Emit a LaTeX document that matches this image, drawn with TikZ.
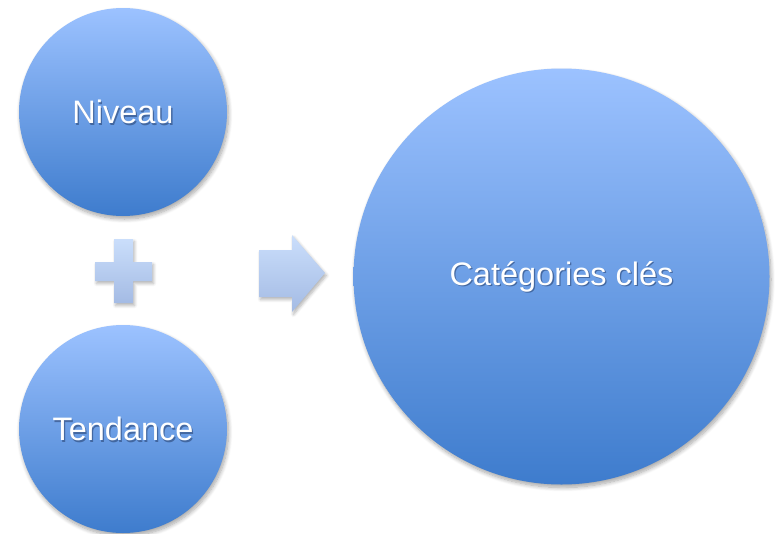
\documentclass[tikz,border=0pt]{standalone}
\usepackage{fontspec}
\setmainfont{Liberation Sans}
\usetikzlibrary{shadows.blur}
\definecolor{ctop}{RGB}{156,194,255}
\definecolor{cbot}{RGB}{62,124,205}
\definecolor{stop}{RGB}{202,222,251}
\definecolor{sbot}{RGB}{164,187,228}
\definecolor{tshadow}{RGB}{20,40,80}
\tikzset{
  bubble/.style={circle, inner sep=0pt, top color=ctop, bottom color=cbot, draw=none,
    blur shadow={shadow xshift=1.5pt, shadow yshift=-3pt, shadow blur steps=8, shadow blur radius=4pt, shadow opacity=35}},
  symb/.style={top color=stop, bottom color=sbot, draw=none,
    blur shadow={shadow xshift=1.5pt, shadow yshift=-2.5pt, shadow blur steps=6, shadow blur radius=3pt, shadow opacity=30}},
  lbl/.style={text=white, font=\fontsize{32.5}{38}\selectfont},
  lblsh/.style={text=tshadow, opacity=0.45, font=\fontsize{32.5}{38}\selectfont}
}
\newcommand{\shadowtext}[3]{%
  \node[lblsh] at ([xshift=1.3pt,yshift=-1.8pt]#1) {#3};
  \node[lbl] (#2) at (#1) {#3};}
\begin{document}
\begin{tikzpicture}[x=1pt,y=-1pt]
\useasboundingbox (0,0) rectangle (775,533);
\node[bubble, minimum size=208pt] (niveau) at (123,112) {};
\node[bubble, minimum size=208pt] (tendance) at (123,429) {};
\node[bubble, minimum size=416pt] (cat) at (561.5,276.5) {};
% plus sign
\path[symb] (95,262) -- (114,262) -- (114,239) -- (133,239) -- (133,262) -- (152,262)
  -- (152,281) -- (133,281) -- (133,303) -- (114,303) -- (114,281) -- (95,281) -- cycle;
% block arrow
\path[symb] (259,250) -- (292,250) -- (292,235) -- (325,273) -- (292,312) -- (292,297)
  -- (259,297) -- cycle;
\shadowtext{niveau.center}{tniveau}{Niveau}
\shadowtext{tendance.center}{ttendance}{Tendance}
\shadowtext{cat.center}{tcat}{Catégories clés}
\end{tikzpicture}
\end{document}
